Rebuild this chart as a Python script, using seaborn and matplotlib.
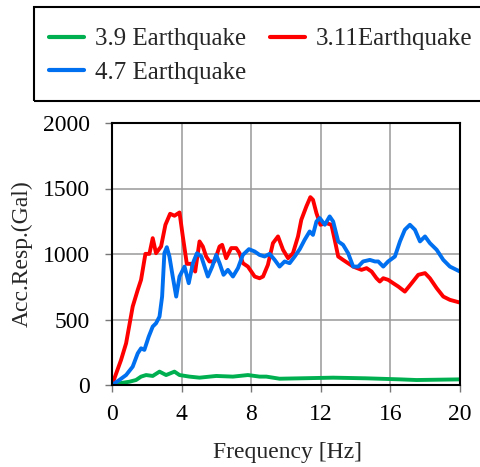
import numpy as np
import pandas as pd
import matplotlib
matplotlib.use("Agg")
import matplotlib.pyplot as plt
import seaborn as sns
from matplotlib.patches import Rectangle
from matplotlib.lines import Line2D

# ---- data ----
f_39 = [0, 0.42, 1.0, 1.38, 1.67, 1.96, 2.34, 2.73, 3.11, 3.59, 3.88, 4.45, 5.03, 5.99, 6.95,
        7.81, 8.48, 8.87, 9.63, 10.79, 12.71, 14.63, 16.55, 17.5, 20]
v_39 = [0, 13, 25, 38, 64, 76, 69, 102, 76, 102, 76, 64, 56, 69, 64,
        76, 64, 64, 48, 51, 56, 51, 43, 38, 43]

f_311 = [0, 0.52, 0.81, 1.19, 1.48, 1.67, 1.92, 2.15, 2.34, 2.53, 2.82, 3.07, 3.34, 3.59, 3.88,
         4.07, 4.30, 4.55, 4.78, 5.03, 5.22, 5.41, 5.60, 5.89, 6.18, 6.33, 6.56, 6.85, 7.14, 7.33,
         7.52, 7.81, 8.20, 8.48, 8.68, 8.96, 9.25, 9.54, 9.83, 10.12, 10.40, 10.69, 10.88, 11.17,
         11.40, 11.55, 11.75, 11.98, 12.32, 12.61, 12.80, 13.0, 13.28, 13.86, 14.34, 14.63, 14.92,
         15.20, 15.39, 15.59, 15.87, 16.16, 16.45, 16.83, 17.22, 17.60, 17.99, 18.27, 18.66, 19.04,
         19.42, 20]
v_311 = [0, 191, 318, 599, 726, 803, 1001, 1001, 1121, 1006, 1057, 1223, 1307, 1292, 1317,
         1134, 925, 925, 866, 1096, 1057, 981, 943, 943, 1057, 1070, 968, 1045, 1045, 1006,
         930, 904, 828, 815, 828, 917, 1083, 1134, 1032, 968, 1006, 1134, 1261, 1363,
         1434, 1414, 1312, 1223, 1236, 1223, 1108, 981, 955, 904, 879, 892, 866,
         815, 790, 815, 803, 777, 752, 713, 777, 841, 854, 815, 739, 675,
         650, 629]

f_47 = [0, 0.42, 0.81, 1.19, 1.48, 1.67, 1.86, 2.11, 2.34, 2.53, 2.73, 2.88, 3.01, 3.15, 3.30,
        3.49, 3.69, 3.88, 4.17, 4.41, 4.65, 4.88, 5.13, 5.32, 5.51, 5.76, 5.99, 6.18, 6.41, 6.66,
        6.95, 7.24, 7.52, 7.87, 8.20, 8.48, 8.77, 9.06, 9.35, 9.63, 9.92, 10.21, 10.50, 10.79,
        11.07, 11.36, 11.55, 11.75, 11.94, 12.23, 12.51, 12.71, 13.0, 13.28, 13.57, 13.86, 14.15,
        14.43, 14.82, 15.11, 15.30, 15.59, 15.87, 16.26, 16.55, 16.83, 17.12, 17.41, 17.70, 17.99,
        18.27, 18.66, 19.04, 19.42, 20]
v_47 = [0, 38, 76, 140, 242, 280, 268, 369, 446, 471, 522, 675, 1006, 1052, 981,
        828, 675, 828, 904, 777, 930, 1006, 981, 904, 828, 904, 993, 930, 841, 879,
        828, 892, 993, 1037, 1019, 993, 981, 1001, 955, 904, 943, 930, 981, 1037,
        1108, 1172, 1146, 1248, 1274, 1223, 1287, 1248, 1096, 1070, 1006, 904, 904,
        943, 955, 943, 943, 904, 943, 981, 1096, 1185, 1223, 1185, 1096, 1134,
        1083, 1032, 955, 904, 866]

labels = ["3.9 Earthquake", "3.11Earthquake", "4.7 Earthquake"]
colors = ["#00b050", "#ff0000", "#0070f0"]
x_ticks = [0, 4, 8, 12, 16, 20]
y_ticks = [0, 500, 1000, 1500, 2000]

df = pd.concat([
    pd.DataFrame({"f": f_39, "v": v_39, "s": labels[0]}),
    pd.DataFrame({"f": f_311, "v": v_311, "s": labels[1]}),
    pd.DataFrame({"f": f_47, "v": v_47, "s": labels[2]}),
], ignore_index=True)

sns.set_theme(style="white")
plt.rcParams["font.family"] = ["Liberation Serif", "DejaVu Serif"]

fig = plt.figure(figsize=(4.81, 4.67), dpi=100)
ax = fig.add_axes([112/481, 1-385/467, (460-112)/481, (385-123)/467])

sns.lineplot(data=df, x="f", y="v", hue="s", hue_order=labels,
             palette=dict(zip(labels, colors)), sort=False, estimator=None,
             linewidth=2.8, ax=ax, legend=False)

ax.set_xlim(0, 20)
ax.set_ylim(0, 2000)
ax.set_xticks(x_ticks)
ax.set_yticks(y_ticks)
ax.grid(True, color="#999999", linewidth=1.1)
ax.set_axisbelow(True)
for sp in ax.spines.values():
    sp.set_color("black")
    sp.set_linewidth(1.5)
    sp.set_visible(True)
ax.tick_params(axis="both", direction="out", length=5, width=1, color="#777777",
               labelsize=17, labelcolor="black", bottom=True, left=True)
ax.tick_params(axis="y", pad=11)
ax.tick_params(axis="x", pad=9)
ax.set_xlabel("Frequency [Hz]", fontsize=17)
ax.set_ylabel("Acc.Resp.(Gal)", fontsize=17)
ax.xaxis.set_label_coords(0.504, -0.256)
ax.yaxis.set_label_coords(-0.259, 0.5)
ax.xaxis.label.set_verticalalignment("center")
ax.yaxis.label.set_verticalalignment("center")

# legend box
fig.patches.append(Rectangle((34/481, 1-101/467), 460/481, 94/467,
                             transform=fig.transFigure, fill=False,
                             edgecolor="black", linewidth=1.5, clip_on=False))
handles = [Line2D([], [], color=colors[0], lw=3),
           Line2D([], [], color=colors[2], lw=3),
           Line2D([], [], color=colors[1], lw=3)]
hl = [labels[0], labels[2], labels[1]]
fig.legend(handles, hl, loc="upper left", bbox_to_anchor=(49/481, 1-28/467),
           ncol=2, frameon=False, fontsize=18, handlelength=1.4,
           handletextpad=0.44, columnspacing=0.95, labelspacing=0.42,
           borderaxespad=0, borderpad=0)

fig.savefig("out.png", dpi=100)
